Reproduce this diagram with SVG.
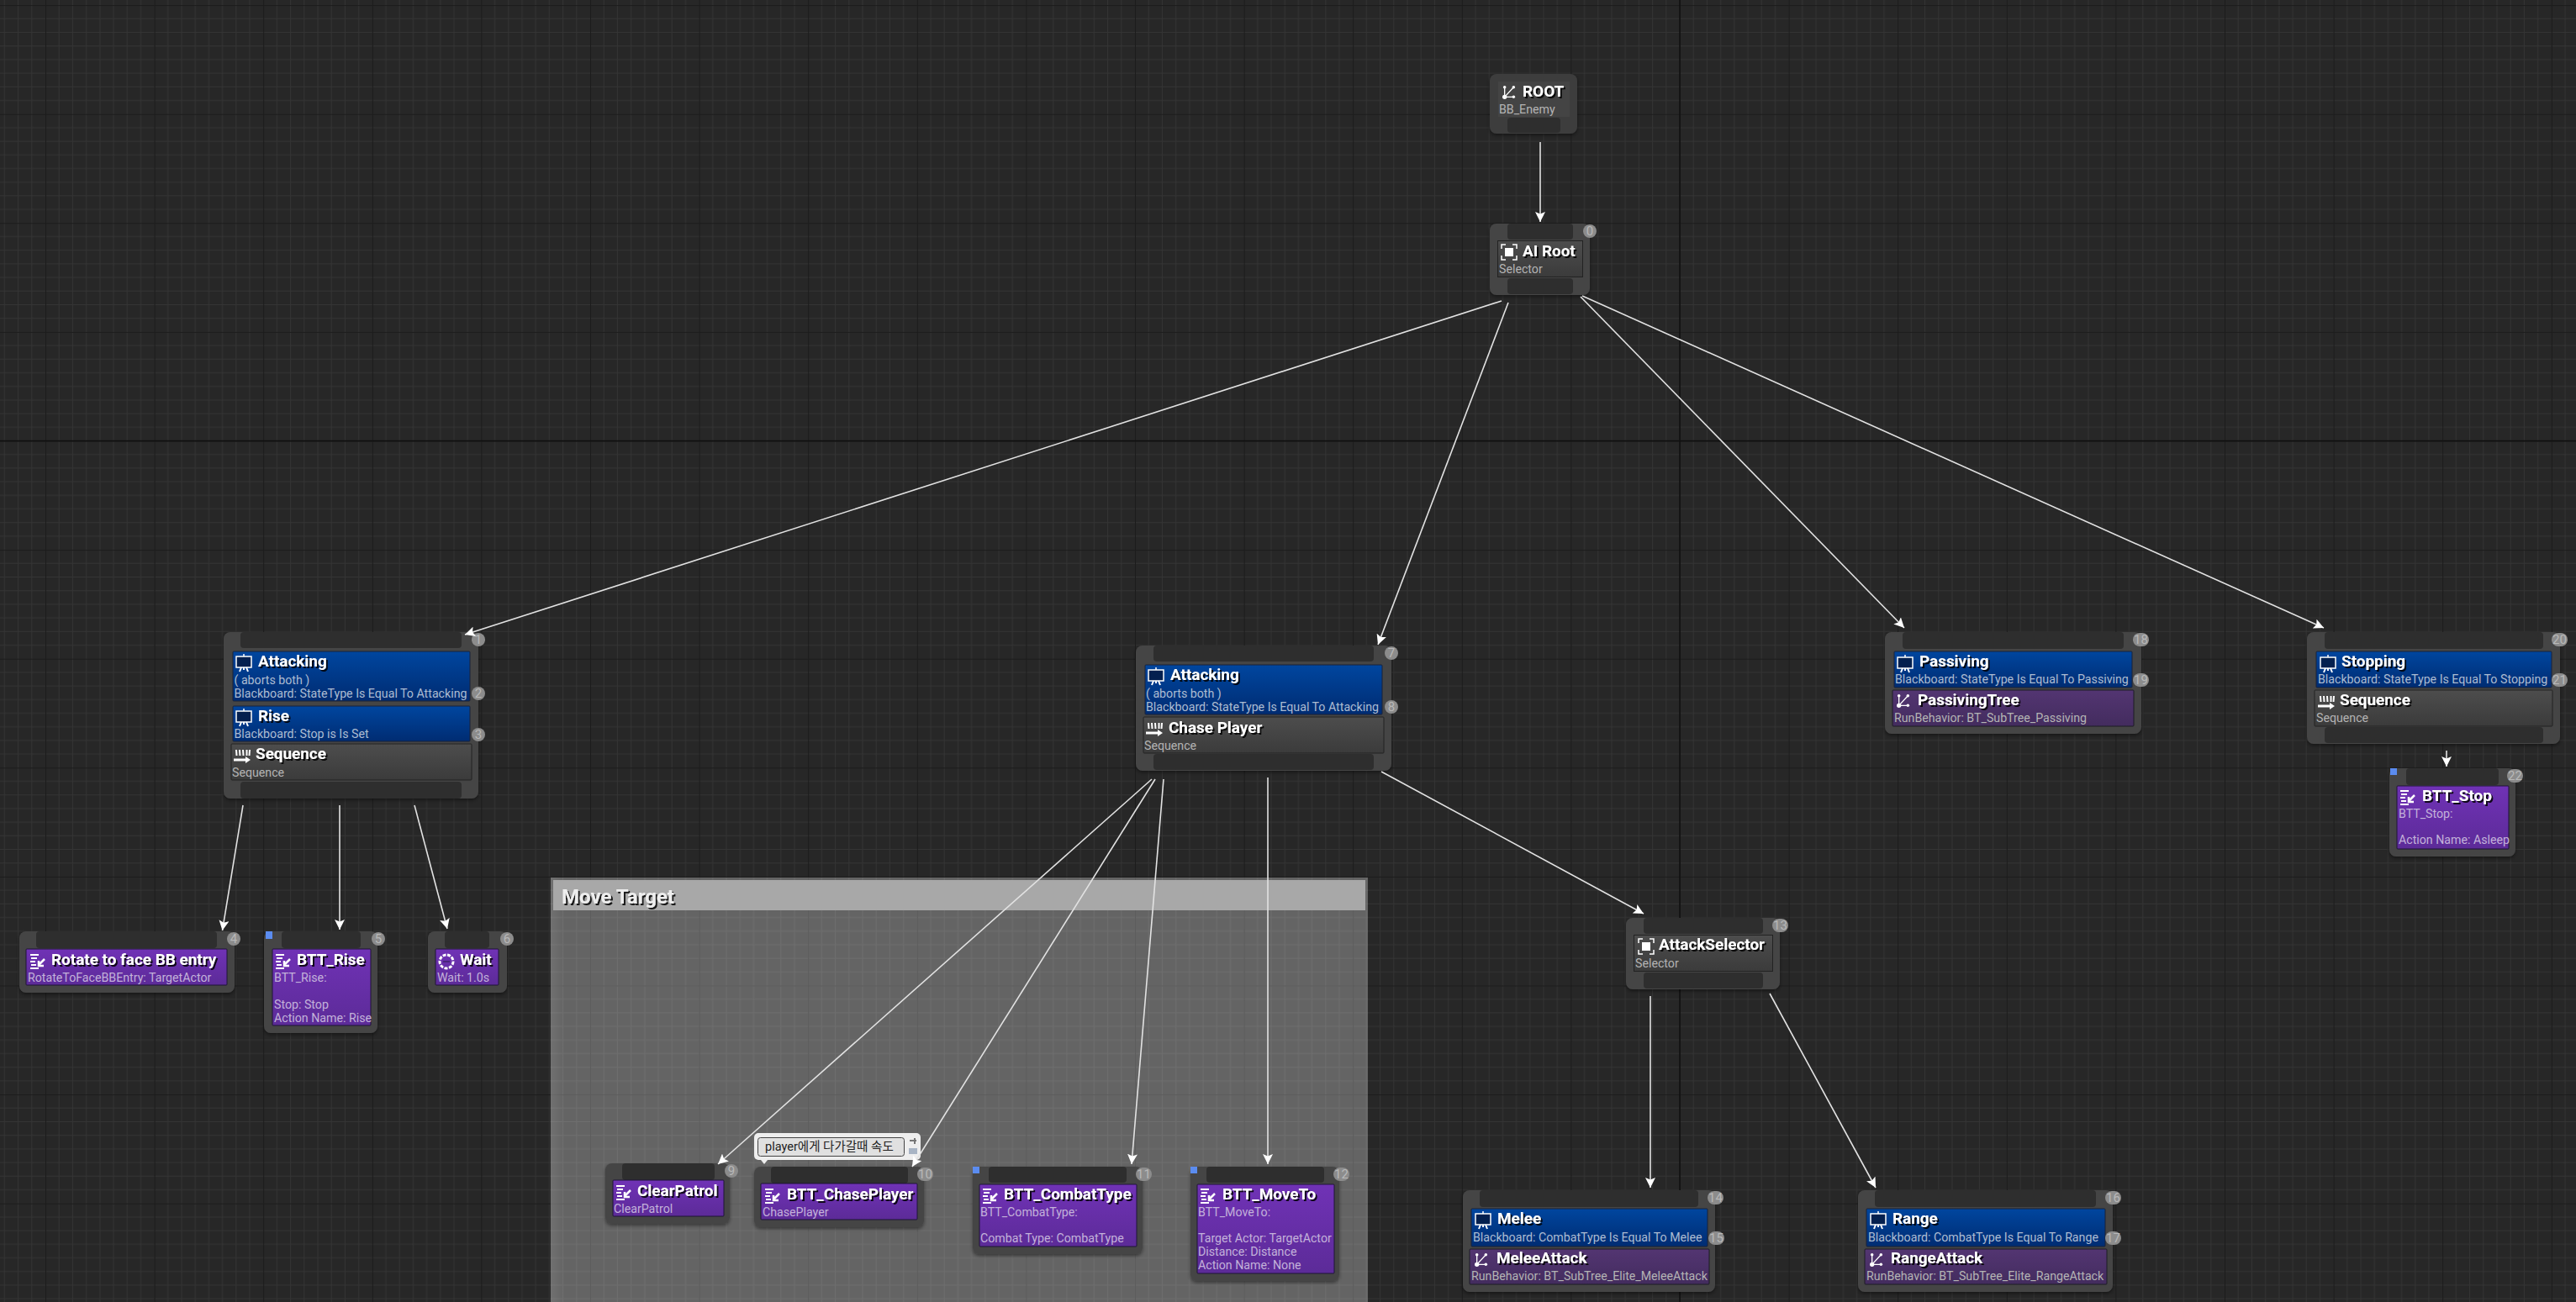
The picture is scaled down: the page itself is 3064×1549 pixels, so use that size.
<svg xmlns="http://www.w3.org/2000/svg" width="3064" height="1549" viewBox="0 0 3064 1549">
<defs>
<style>
text{font-family:Roboto,"Liberation Sans","Noto Sans CJK KR",sans-serif}
.n{fill:#454545}
.shadow{filter:url(#sh)}
.s{fill:#2e2e2e}
.t{font-size:18.900px;font-weight:700;fill:#fff;filter:url(#ts)}
.d{font-size:14.200px;fill:#b4b4b4}
.db{font-size:14.200px;fill:#adbcd2}
.dp{font-size:14.200px;fill:#c3b2da}
.blue{fill:url(#gb);stroke:#1a2238;stroke-width:1}
.pur{fill:url(#gp);stroke:#1f1436;stroke-width:1}
.tree{fill:url(#gt);stroke:#1c1c24;stroke-width:1}
.gray{fill:url(#gg);stroke:#222;stroke-width:1}
.b{fill:#8c8c8c}
.bt{font-size:15px;fill:#b8b8b8;text-anchor:middle}
.m{fill:#5b8cf0}
.c line{stroke:#e2e2e2;stroke-width:1.6;marker-end:url(#a)}
</style>
<pattern id="grid" patternUnits="userSpaceOnUse" x="54" y="6.1" width="129.6" height="129.6">
<rect width="129.6" height="129.6" fill="#272727"/>
<path d="M16.2 0V129.6M32.4 0V129.6M48.6 0V129.6M64.8 0V129.6M81 0V129.6M97.2 0V129.6M113.4 0V129.6M0 16.2H129.6M0 32.4H129.6M0 48.6H129.6M0 64.8H129.6M0 81H129.6M0 97.2H129.6M0 113.4H129.6" stroke="#343434" stroke-width="1" fill="none"/>
<path d="M0 0V129.6M0 0H129.6" stroke="#1c1c1c" stroke-width="2" fill="none"/>
</pattern>
<linearGradient id="gb" x1="0" y1="0" x2="0" y2="1"><stop offset="0" stop-color="#00469f"/><stop offset="1" stop-color="#002c72"/></linearGradient>
<linearGradient id="gp" x1="0" y1="0" x2="0" y2="1"><stop offset="0" stop-color="#7032b6"/><stop offset="1" stop-color="#5c2b98"/></linearGradient>
<linearGradient id="gt" x1="0" y1="0" x2="0" y2="1"><stop offset="0" stop-color="#533572"/><stop offset="1" stop-color="#432c5e"/></linearGradient>
<linearGradient id="gg" x1="0" y1="0" x2="0" y2="1"><stop offset="0" stop-color="#4d4d4d"/><stop offset="1" stop-color="#3b3b3b"/></linearGradient>
<linearGradient id="gl" x1="0" y1="0" x2="1" y2="0"><stop offset="0" stop-color="#fff" stop-opacity="0.08"/><stop offset="1" stop-color="#fff" stop-opacity="0"/></linearGradient>
<filter id="ts" x="-10%" y="-30%" width="125%" height="170%"><feDropShadow dx="2" dy="2" stdDeviation="0.5" flood-color="#000" flood-opacity="0.85"/></filter>
<filter id="sh" x="-10%" y="-10%" width="120%" height="125%"><feDropShadow dx="0" dy="2" stdDeviation="2" flood-color="#000" flood-opacity="0.45"/></filter>
<marker id="a" markerUnits="userSpaceOnUse" viewBox="0 0 12 12" refX="12" refY="6" markerWidth="12" markerHeight="12" orient="auto"><path d="M12 6L0 0L2.500 6L0 12Z" fill="#fff"/></marker>
<symbol id="bb" viewBox="0 0 20 22"><path d="M10 0V3" stroke="#fff" stroke-width="1.500"/><rect x="1" y="3" width="18" height="13" fill="#04204f" stroke="#fff" stroke-width="1.500"/><path d="M5 21L7 16M15 21L13 16M10 16V19" stroke="#fff" stroke-width="2" fill="none"/></symbol>
<symbol id="seq" viewBox="0 0 20 18"><path d="M3 1L3.500 8M7 1L7.500 8M11 1L11.500 8M15.500 1L15.500 8M19 1L18.500 8" stroke="#fff" stroke-width="2" fill="none"/><path d="M0 13H15" stroke="#fff" stroke-width="3"/><path d="M14 9L20 13L14 17Z" fill="#fff"/></symbol>
<symbol id="sel" viewBox="0 0 20 20"><path d="M1 6V1H6M14 1H19V6M19 14V19H14M6 19H1V14" stroke="#fff" stroke-width="1.500" fill="none"/><rect x="5" y="5" width="10" height="10" fill="#fff"/></symbol>
<symbol id="task" viewBox="0 0 20 20"><path d="M1 2H11M2 6H9M1 10H7M2 14H8M1 18H11" stroke="#fff" stroke-width="2" fill="none"/><path d="M18 7L12 13M11 9V15H17" stroke="#fff" stroke-width="2.500" fill="none"/></symbol>
<symbol id="tree" viewBox="0 0 18 18"><circle cx="3" cy="2" r="2" fill="#fff"/><circle cx="3" cy="15" r="3" fill="#fff"/><circle cx="15" cy="2" r="2" fill="#fff"/><circle cx="15" cy="15" r="2" fill="#fff"/><path d="M3 2V15M3 15L15 2M3 15H15" stroke="#fff" stroke-width="1.500" fill="none"/></symbol>
<symbol id="wait" viewBox="0 0 20 20"><circle cx="10" cy="10" r="8" fill="none" stroke="#fff" stroke-width="3" stroke-dasharray="4 1.500"/><path d="M6 10H14" stroke="#2a1a4a" stroke-width="1"/></symbol>
</defs>
<rect width="3064" height="1549" fill="url(#grid)"/>
<path d="M1998 0V1549M0 524.500H3064" stroke="#101010" stroke-width="1.500" fill="none"/>

<g id="comment-move-target">
<rect x="655" y="1044" width="972" height="505" fill="#fff" opacity="0.285"/>
<rect x="655" y="1044" width="16" height="505" fill="url(#gl)"/>
<rect x="658" y="1047" width="966" height="36" fill="#a8a8a8"/>
<text x="668" y="1075" font-size="24" font-weight="700" fill="#eee" filter="url(#ts)">Move Target</text>
</g>

<g id="node-root">
<rect class="n shadow" x="1772" y="88" width="104" height="71" rx="8" style="fill:#3c3c3c"/>
<rect x="1782" y="97" width="85" height="42" fill="#444"/>
<rect class="s" x="1793" y="140" width="63" height="18" rx="4"/>
<use href="#tree" x="1787" y="102" width="16" height="16"/>
<text class="t" x="1811" y="115">ROOT</text>
<text class="d" x="1783" y="135">BB_Enemy</text>
</g>

<g id="node-ai-root">
<rect class="n shadow" x="1772" y="266" width="119" height="85" rx="8"/>
<rect class="s" x="1793" y="266" width="78" height="19" rx="4"/>
<rect class="gray" x="1781.500" y="286.500" width="101" height="43"/>
<rect class="s" x="1793" y="331" width="78" height="19" rx="4"/>
<use href="#sel" x="1785" y="290" width="20" height="20"/>
<text class="t" x="1811" y="305">AI Root</text>
<text class="d" x="1783" y="325">Selector</text>
<circle class="b" cx="1891" cy="275" r="8"/><text class="bt" x="1891" y="280">0</text>
</g>

<g id="node-attacking-left">
<rect class="n shadow" x="266" y="752" width="303" height="198" rx="8"/>
<rect class="s" x="286" y="752" width="263" height="19" rx="4"/>
<rect class="blue" x="277" y="775" width="282" height="59" rx="1"/>
<rect class="blue" x="277" y="840" width="282" height="42" rx="1"/>
<rect class="gray" x="275" y="885" width="286" height="43" rx="1"/>
<rect class="s" x="286" y="930" width="263" height="20" rx="4"/>
<use href="#bb" x="280" y="778" width="20" height="22"/>
<text class="t" x="307" y="793">Attacking</text>
<text class="db" x="278.500" y="814">( aborts both )</text>
<text class="db" x="278.500" y="830">Blackboard: StateType Is Equal To Attacking</text>
<use href="#bb" x="280" y="843" width="20" height="22"/>
<text class="t" x="307" y="858">Rise</text>
<text class="db" x="278.500" y="878">Blackboard: Stop is Is Set</text>
<use href="#seq" x="278" y="891" width="20" height="18"/>
<text class="t" x="304" y="903">Sequence</text>
<text class="d" x="276" y="924">Sequence</text>
<circle class="b" cx="569" cy="761" r="8"/><text class="bt" x="569" y="766">1</text>
<circle class="b" cx="569" cy="825" r="8"/><text class="bt" x="569" y="830">2</text>
<circle class="b" cx="569" cy="874" r="8"/><text class="bt" x="569" y="879">3</text>
</g>

<g id="node-rotate">
<rect class="n shadow" x="23" y="1108" width="256" height="73" rx="8"/>
<rect class="s" x="43" y="1108" width="215" height="20" rx="4"/>
<rect class="pur" x="31" y="1129" width="239" height="43" rx="1"/>
<use href="#task" x="35" y="1134" width="20" height="20"/>
<text class="t" x="61" y="1148">Rotate to face BB entry</text>
<text class="dp" x="33" y="1168">RotateToFaceBBEntry: TargetActor</text>
<circle class="b" cx="278" cy="1117" r="8"/><text class="bt" x="278" y="1122">4</text>
</g>

<g id="node-btt-rise">
<rect class="n shadow" x="314" y="1108" width="135" height="121" rx="8"/>
<rect class="s" x="335" y="1108" width="94" height="20" rx="4"/>
<rect class="pur" x="324" y="1129" width="117" height="91" rx="1"/>
<rect class="m" x="316" y="1108" width="8" height="9"/>
<use href="#task" x="327" y="1134" width="20" height="20"/>
<text class="t" x="353" y="1148">BTT_Rise</text>
<text class="dp" x="326" y="1168">BTT_Rise:</text>
<text class="dp" x="326" y="1200">Stop: Stop</text>
<text class="dp" x="326" y="1216">Action Name: Rise</text>
<circle class="b" cx="450" cy="1117" r="8"/><text class="bt" x="450" y="1122">5</text>
</g>

<g id="node-wait">
<rect class="n shadow" x="509" y="1108" width="94" height="73" rx="8"/>
<rect class="s" x="529" y="1108" width="53" height="20" rx="4"/>
<rect class="pur" x="518" y="1129" width="75" height="43" rx="1"/>
<use href="#wait" x="521" y="1134" width="20" height="20"/>
<text class="t" x="547" y="1148">Wait</text>
<text class="dp" x="520" y="1168">Wait: 1.0s</text>
<circle class="b" cx="603" cy="1117" r="8"/><text class="bt" x="603" y="1122">6</text>
</g>

<g id="node-attacking-center">
<rect class="n shadow" x="1351" y="768" width="304" height="149" rx="8"/>
<rect class="s" x="1372" y="768" width="262" height="19" rx="4"/>
<rect class="blue" x="1362" y="791" width="282" height="59" rx="1"/>
<rect class="gray" x="1360" y="853" width="286" height="43" rx="1"/>
<rect class="s" x="1372" y="897" width="262" height="19" rx="4"/>
<use href="#bb" x="1365" y="794" width="20" height="22"/>
<text class="t" x="1392" y="809">Attacking</text>
<text class="db" x="1363" y="830">( aborts both )</text>
<text class="db" x="1363" y="846">Blackboard: StateType Is Equal To Attacking</text>
<use href="#seq" x="1363" y="859" width="20" height="18"/>
<text class="t" x="1390" y="872">Chase Player</text>
<text class="d" x="1361" y="892">Sequence</text>
<circle class="b" cx="1655" cy="777" r="8"/><text class="bt" x="1655" y="782">7</text>
<circle class="b" cx="1655" cy="841" r="8"/><text class="bt" x="1655" y="846">8</text>
</g>

<g id="node-clearpatrol">
<rect class="n shadow" x="720" y="1384" width="148" height="72" rx="8"/>
<rect class="s" x="740" y="1384" width="110" height="20" rx="4"/>
<rect class="pur" x="729" y="1404" width="132" height="43" rx="1"/>
<use href="#task" x="732" y="1409" width="20" height="20"/>
<text class="t" x="758" y="1423">ClearPatrol</text>
<text class="dp" x="730" y="1443">ClearPatrol</text>
<circle class="b" cx="870" cy="1393" r="8"/><text class="bt" x="870" y="1398">9</text>
</g>

<g id="node-chaseplayer">
<rect class="n shadow" x="897" y="1388" width="202" height="72" rx="8"/>
<rect class="s" x="917" y="1388" width="163" height="20" rx="4"/>
<rect class="pur" x="905" y="1408" width="186" height="43" rx="1"/>
<use href="#task" x="909" y="1413" width="20" height="20"/>
<text class="t" x="936" y="1427">BTT_ChasePlayer</text>
<text class="dp" x="907" y="1447">ChasePlayer</text>
<rect class="b" x="1091" y="1389" width="19" height="16" rx="8"/><text class="bt" x="1100.500" y="1402">10</text>
</g>

<g id="bubble">
<rect x="897" y="1348" width="198" height="32" rx="5" fill="#eee"/>
<path d="M905 1380H913L909 1385Z" fill="#eee"/>
<rect x="901.500" y="1353.500" width="174" height="22" rx="3" fill="#e0e0e0" stroke="#444" stroke-width="1"/>
<text x="910" y="1369" font-size="14.500" fill="#222">player에게 다가갈때 속도</text>
<path d="M1082 1357H1090M1088 1354V1361" stroke="#777" stroke-width="2" fill="none"/>
<rect x="1081" y="1366" width="10" height="7" fill="#a8b4c4"/>
</g>

<g id="node-combattype">
<rect class="n shadow" x="1157" y="1388" width="202" height="104" rx="8"/>
<rect class="s" x="1176" y="1388" width="164" height="19" rx="4"/>
<rect class="pur" x="1165" y="1409" width="187" height="74" rx="1"/>
<rect class="m" x="1157" y="1388" width="8" height="8"/>
<use href="#task" x="1168" y="1413" width="20" height="20"/>
<text class="t" x="1194" y="1427">BTT_CombatType</text>
<text class="dp" x="1166" y="1447">BTT_CombatType:</text>
<text class="dp" x="1166" y="1478">Combat Type: CombatType</text>
<rect class="b" x="1351" y="1389" width="19" height="16" rx="8"/><text class="bt" x="1360.500" y="1402">11</text>
</g>

<g id="node-moveto">
<rect class="n shadow" x="1416" y="1388" width="177" height="136" rx="8"/>
<rect class="s" x="1435" y="1388" width="140" height="19" rx="4"/>
<rect class="pur" x="1424" y="1409" width="163" height="106" rx="1"/>
<rect class="m" x="1416" y="1388" width="8" height="8"/>
<use href="#task" x="1427" y="1413" width="20" height="20"/>
<text class="t" x="1454" y="1427">BTT_MoveTo</text>
<text class="dp" x="1425" y="1447">BTT_MoveTo:</text>
<text class="dp" x="1425" y="1478">Target Actor: TargetActor</text>
<text class="dp" x="1425" y="1494">Distance: Distance</text>
<text class="dp" x="1425" y="1510">Action Name: None</text>
<rect class="b" x="1586" y="1389" width="19" height="16" rx="8"/><text class="bt" x="1595.500" y="1402">12</text>
</g>

<g id="node-attackselector">
<rect class="n shadow" x="1934" y="1092" width="183" height="85" rx="8"/>
<rect class="s" x="1955" y="1092" width="142" height="19" rx="4"/>
<rect class="gray" x="1943.500" y="1112.500" width="165" height="43"/>
<rect class="s" x="1955" y="1157" width="142" height="19" rx="4"/>
<use href="#sel" x="1948" y="1116" width="20" height="20"/>
<text class="t" x="1973" y="1130">AttackSelector</text>
<text class="d" x="1945" y="1151">Selector</text>
<rect class="b" x="2108" y="1093" width="19" height="16" rx="8"/><text class="bt" x="2117.500" y="1106">13</text>
</g>

<g id="node-melee">
<rect class="n shadow" x="1740" y="1416" width="300" height="121" rx="8"/>
<rect class="s" x="1760" y="1416" width="260" height="20" rx="4"/>
<rect class="blue" x="1750" y="1438" width="281" height="45" rx="1"/>
<rect class="tree" x="1748" y="1486" width="285" height="42" rx="1"/>
<use href="#bb" x="1754" y="1441" width="20" height="22"/>
<text class="t" x="1781" y="1456">Melee</text>
<text class="db" x="1752" y="1477">Blackboard: CombatType Is Equal To Melee</text>
<use href="#tree" x="1754" y="1491" width="16" height="16"/>
<text class="t" x="1780" y="1503">MeleeAttack</text>
<text class="d" x="1750" y="1523">RunBehavior: BT_SubTree_Elite_MeleeAttack</text>
<rect class="b" x="2031" y="1417" width="19" height="16" rx="8"/><text class="bt" x="2040.500" y="1430">14</text>
<rect class="b" x="2032" y="1465" width="19" height="16" rx="8"/><text class="bt" x="2041.500" y="1478">15</text>
</g>

<g id="node-range">
<rect class="n shadow" x="2210" y="1416" width="303" height="121" rx="8"/>
<rect class="s" x="2230" y="1416" width="263" height="20" rx="4"/>
<rect class="blue" x="2220" y="1438" width="284" height="45" rx="1"/>
<rect class="tree" x="2218" y="1486" width="288" height="42" rx="1"/>
<use href="#bb" x="2224" y="1441" width="20" height="22"/>
<text class="t" x="2251" y="1456">Range</text>
<text class="db" x="2222" y="1477">Blackboard: CombatType Is Equal To Range</text>
<use href="#tree" x="2224" y="1491" width="16" height="16"/>
<text class="t" x="2249" y="1503">RangeAttack</text>
<text class="d" x="2220" y="1523">RunBehavior: BT_SubTree_Elite_RangeAttack</text>
<rect class="b" x="2504" y="1417" width="19" height="16" rx="8"/><text class="bt" x="2513.500" y="1430">16</text>
<rect class="b" x="2504" y="1465" width="19" height="16" rx="8"/><text class="bt" x="2513.500" y="1478">17</text>
</g>

<g id="node-passiving">
<rect class="n shadow" x="2242" y="752" width="305" height="121" rx="8"/>
<rect class="s" x="2263" y="752" width="263" height="20" rx="4"/>
<rect class="blue" x="2253" y="775" width="283" height="43" rx="1"/>
<rect class="tree" x="2251" y="821" width="287" height="43" rx="1"/>
<use href="#bb" x="2256" y="779" width="20" height="22"/>
<text class="t" x="2283" y="793">Passiving</text>
<text class="db" x="2254" y="813">Blackboard: StateType Is Equal To Passiving</text>
<use href="#tree" x="2256" y="826" width="16" height="16"/>
<text class="t" x="2281" y="839">PassivingTree</text>
<text class="d" x="2253" y="859">RunBehavior: BT_SubTree_Passiving</text>
<rect class="b" x="2537" y="753" width="19" height="16" rx="8"/><text class="bt" x="2546.500" y="766">18</text>
<rect class="b" x="2537" y="801" width="19" height="16" rx="8"/><text class="bt" x="2546.500" y="814">19</text>
</g>

<g id="node-stopping">
<rect class="n shadow" x="2744" y="752" width="301" height="133" rx="8"/>
<rect class="s" x="2765" y="752" width="260" height="20" rx="4"/>
<rect class="blue" x="2755" y="775" width="280" height="43" rx="1"/>
<rect class="gray" x="2753" y="821" width="283" height="43" rx="1"/>
<rect class="s" x="2765" y="865" width="260" height="19" rx="4"/>
<use href="#bb" x="2759" y="779" width="20" height="22"/>
<text class="t" x="2785" y="793">Stopping</text>
<text class="db" x="2757" y="813">Blackboard: StateType Is Equal To Stopping</text>
<use href="#seq" x="2757" y="827" width="20" height="18"/>
<text class="t" x="2783" y="839">Sequence</text>
<text class="d" x="2755" y="859">Sequence</text>
<rect class="b" x="3035" y="753" width="19" height="16" rx="8"/><text class="bt" x="3044.500" y="766">20</text>
<rect class="b" x="3035" y="801" width="19" height="16" rx="8"/><text class="bt" x="3044.500" y="814">21</text>
</g>

<g id="node-btt-stop">
<rect class="n shadow" x="2842" y="914" width="150" height="105" rx="8"/>
<rect class="s" x="2862" y="914" width="110" height="20" rx="4"/>
<rect class="pur" x="2851" y="935" width="133" height="75" rx="1"/>
<rect class="m" x="2843" y="914" width="8" height="8"/>
<use href="#task" x="2854" y="939" width="20" height="20"/>
<text class="t" x="2881" y="953">BTT_Stop</text>
<text class="dp" x="2853" y="973">BTT_Stop:</text>
<text class="dp" x="2853" y="1004">Action Name: Asleep</text>
<rect class="b" x="2982" y="915" width="19" height="16" rx="8"/><text class="bt" x="2991.500" y="928">22</text>
</g>

<g id="connectors" class="c">
<line x1="1832" y1="169" x2="1832" y2="264"/>
<line x1="1786" y1="358" x2="553" y2="755"/>
<line x1="1794" y1="360" x2="1639" y2="767"/>
<line x1="1880" y1="353" x2="2265" y2="747"/>
<line x1="1882" y1="352" x2="2764" y2="747"/>
<line x1="289" y1="958" x2="264.500" y2="1107"/>
<line x1="404" y1="958" x2="404" y2="1106"/>
<line x1="493" y1="958" x2="532" y2="1105"/>
<line x1="1370" y1="927" x2="854" y2="1385"/>
<line x1="1374" y1="927" x2="1085" y2="1388"/>
<line x1="1384" y1="927" x2="1346" y2="1385"/>
<line x1="1508" y1="925" x2="1508" y2="1385"/>
<line x1="1643" y1="918" x2="1955" y2="1087"/>
<line x1="1963" y1="1185" x2="1963" y2="1413"/>
<line x1="2105" y1="1182" x2="2231" y2="1413"/>
<line x1="2910" y1="893" x2="2910" y2="912"/>
</g>
</svg>
